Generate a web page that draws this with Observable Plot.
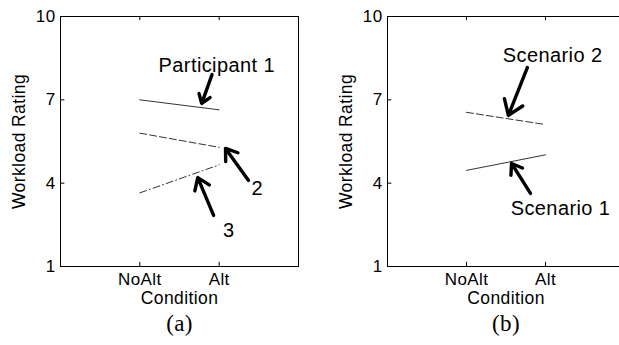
<!DOCTYPE html>
<html><head><meta charset="utf-8">
<script src="https://cdn.jsdelivr.net/npm/d3@7"></script>
<script src="https://cdn.jsdelivr.net/npm/@observablehq/plot@0.6"></script>
<style>
html,body{margin:0;padding:0;background:#fff;overflow:hidden;width:619px;height:345px}
#wrap{position:relative;width:619px;height:345px;overflow:hidden;background:#fff}
#a{position:absolute;left:0;top:0;width:310px;height:345px}
#b{position:absolute;left:310px;top:0;width:330px;height:345px}
svg{overflow:visible;max-width:none !important}
</style></head><body><div id="wrap"><div id="a"></div><div id="b"></div></div>
<script>
// categories and tick labels
const conditions = ["NoAlt", "Alt"];
const yTicks = [1, 4, 7, 10];

// panel (a) series: workload rating per participant (NoAlt, Alt)
const participant1 = [7.0, 6.64];
const participant2 = [5.80, 5.29];
const participant3 = [3.65, 4.66];

// panel (b) series: workload rating per scenario (NoAlt, Alt)
const scenario1 = [4.46, 5.02];
const scenario2 = [6.55, 6.11];

// annotation labels, placed in data units
const labelsA = ["Participant 1", "2", "3"];
const labelsAX = [1.97, 2.48, 2.12];
const labelsAY = [8.24, 3.81, 2.30];
const arrowsAX1 = [1.91, 2.37, 1.93];
const arrowsAY1 = [7.91, 4.10, 2.84];
const arrowsAX2 = [1.78, 2.08, 1.73];
const arrowsAY2 = [6.87, 5.25, 4.20];

const labelsB = ["Scenario 2", "Scenario 1"];
const labelsBX = [2.09, 2.19];
const labelsBY = [8.60, 3.09];
const arrowsBX1 = [1.77, 1.81];
const arrowsBY1 = [8.16, 3.63];
const arrowsBX2 = [1.53, 1.57];
const arrowsBY2 = [6.44, 4.71];

const rows = vals => vals.map((v, i) => ({x: i + 1, y: v}));
const zip = (...cols) => cols[0].map((_, i) => cols.map(c => c[i]));

function panel({width, marginLeft, marginRight, series, labels, lx, ly, ax1, ay1, ax2, ay2, tag}) {
  const lineColor = "#333";
  const marks = [
    Plot.frame({stroke: "#000", strokeWidth: 1}),
    // inward MATLAB-style ticks
    Plot.ruleY(yTicks.slice(1, 3), {x1: 0, x2: 0.055, stroke: "#000"}),
    Plot.ruleX([1, 2], {y1: 1, y2: 1.15, stroke: "#000"}),
    Plot.ruleX([1, 2], {y1: 10, y2: 9.85, stroke: "#000"}),
    Plot.axisY(yTicks, {tickSize: 0, tickPadding: 5, fontSize: 17, label: null}),
    Plot.axisX([1, 2], {tickSize: 0, tickPadding: 6, fontSize: 17, tickFormat: d => conditions[d - 1], label: null}),
    ...series.map(s => Plot.line(rows(s.values), {x: "x", y: "y", stroke: lineColor, strokeWidth: 1, strokeDasharray: s.dash})),
    Plot.arrow(zip(ax1, ay1, ax2, ay2), {x1: "0", y1: "1", x2: "2", y2: "3", stroke: "#000", strokeWidth: 3.4, headLength: 12, headAngle: 70}),
    Plot.text(zip(labels, lx, ly), {x: "1", y: "2", text: "0", fontSize: 20, fill: "#000", textAnchor: "middle", letterSpacing: "0.7px"}),
    Plot.text(["Workload Rating"], {frameAnchor: "left", textAnchor: "middle", dx: -41, rotate: -90, fontSize: 17.5, fill: "#000"}),
    Plot.text(["Condition"], {frameAnchor: "bottom", dy: 37, fontSize: 17.5, fill: "#000"}),
    Plot.text([tag], {frameAnchor: "bottom", dy: 64, fontSize: 23, fontFamily: "'Liberation Serif', 'Times New Roman', serif", fill: "#000", letterSpacing: "0px"})
  ];
  return Plot.plot({
    width, height: 345,
    marginLeft, marginRight, marginTop: 16, marginBottom: 79,
    x: {domain: [0, 3]},
    y: {domain: [1, 10]},
    style: {fontFamily: "'Liberation Sans', Arial, sans-serif", fontSize: "17px", color: "#000", background: "transparent", letterSpacing: "0.4px", maxWidth: "none"},
    marks
  });
}

document.getElementById("a").appendChild(panel({
  width: 310, marginLeft: 60, marginRight: 12,
  series: [
    {values: participant1, dash: null},
    {values: participant2, dash: "7,3"},
    {values: participant3, dash: "7,3,1,3"}
  ],
  labels: labelsA, lx: labelsAX, ly: labelsAY,
  ax1: arrowsAX1, ay1: arrowsAY1, ax2: arrowsAX2, ay2: arrowsAY2,
  tag: "(a)"
}));

document.getElementById("b").appendChild(panel({
  width: 330, marginLeft: 77, marginRight: 16,
  series: [
    {values: scenario1, dash: null},
    {values: scenario2, dash: "7,3"}
  ],
  labels: labelsB, lx: labelsBX, ly: labelsBY,
  ax1: arrowsBX1, ay1: arrowsBY1, ax2: arrowsBX2, ay2: arrowsBY2,
  tag: "(b)"
}));
</script>
</body></html>
